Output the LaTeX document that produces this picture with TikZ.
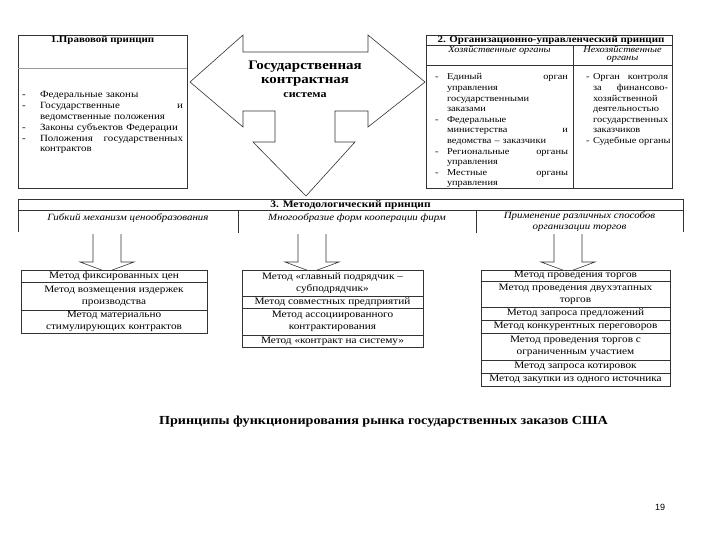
\documentclass[tikz,border=0pt]{standalone}
\usepackage{fontspec}
\setmainfont{Liberation Serif}[FakeStretch=1.15]
\newfontfamily\mysans{Liberation Sans}
\newcommand\myfList{\fontsize{9.5}{10.8}\selectfont}
\newcommand\myfOrg{\fontsize{9.0}{10.6}\selectfont}
\newcommand\myfSub{\fontsize{9}{8.4}\selectfont\itshape}
\newcommand\myfHead{\fontsize{9.5}{10}\selectfont\bfseries}
\newcommand\myfBig{\fontsize{13}{15}\selectfont\bfseries}
\newcommand\myfTab{\fontsize{9.8}{11.8}\selectfont}
\newcommand\myfIt{\fontsize{9.5}{11.3}\selectfont\itshape}
\begin{document}
\begin{tikzpicture}[x=1pt,y=-1pt,
  ln/.style={draw=black!80, line width=0.6pt},
  lt/.style={draw=black!40, line width=0.6pt},
  tx/.style={inner sep=0pt, outer sep=0pt},
  lst/.style={tx, anchor=base west, align=left, font=\myfList},
  org/.style={tx, anchor=base west, align=left, font=\myfOrg},
  cell/.style={tx, align=center, font=\myfTab},
  tbl/.style={draw=black!80, line width=0.6pt, fill=white}]
\useasboundingbox[fill=white] (0,0) rectangle (720,540);

% ---------- left box
\draw[ln] (18,35) rectangle (187,188);
\draw[lt] (18,68) -- (187,68);
\node[tx, font=\myfHead] (h1) at (102.5,40.5) {1.Правовой принцип};
\node[lst] (d1) at (22,98) {-};
\node[lst, text width=143pt] (l1) at (40,98) {Федеральные законы};
\node[lst] (d2) at (22,108.8) {-};
\node[lst, text width=143pt] (l2) at (40,108.8) {Государственные\hfill и\\ведомственные положения};
\node[lst] (d3) at (22,130.4) {-};
\node[lst, text width=143pt] (l3) at (40,130.4) {Законы субъектов Федерации};
\node[lst] (d4) at (22,141.2) {-};
\node[lst, text width=143pt] (l4) at (40,141.2) {Положения\hfill государственных\\контрактов};

% ---------- central shape
\draw[ln, fill=white] (243,35) -- (243,52) -- (368,52) -- (368,35) -- (425,82)
  -- (368,127) -- (368,111) -- (335,111) -- (335,142) -- (355,142) -- (306,196)
  -- (253,142) -- (275,142) -- (275,111) -- (243,111) -- (243,127) -- (190,82) -- cycle;
\node[tx, font=\myfBig] (c1) at (305,67) {Государственная};
\node[tx, font=\myfBig] (c2) at (305,81.5) {контрактная};
\node[tx, font=\fontsize{10.5}{12}\selectfont\bfseries] (c3) at (305,95) {система};

% ---------- right box
\draw[ln] (426,35) rectangle (672,188);
\draw[ln] (426,45) -- (672,45);
\draw[ln] (426,65) -- (672,65);
\draw[ln] (573,45) -- (573,188);
\node[tx, font=\myfHead] (h2) at (551,40.5) {2. Организационно-управленческий принцип};
\node[tx, font=\myfSub] (s1) at (499.5,50.5) {Хозяйственные органы};
\node[tx, font=\myfSub, align=center] (s2) at (622.5,54.5) {Нехозяйственные\\органы};
\node[org] (e1) at (435,80) {-};
\node[org, text width=121pt] (o1) at (447,80) {Единый\hfill орган\\управления\\государственными\\заказами};
\node[org] (e2) at (435,122.4) {-};
\node[org, text width=121pt] (o2) at (447,122.4) {Федеральные\\министерства\hfill и\\ведомства – заказчики};
\node[org] (e3) at (435,154.2) {-};
\node[org, text width=121pt] (o3) at (447,154.2) {Региональные\hfill органы\\управления};
\node[org] (e4) at (435,175.4) {-};
\node[org, text width=121pt] (o4) at (447,175.4) {Местные\hfill органы\\управления};
\node[org] (f1) at (586,80) {-};
\node[org, text width=75pt] (r1) at (593,80) {Орган\hfill контроля\\за\hfill финансово-\\хозяйственной\\деятельностью\\государственных\\заказчиков};
\node[org] (f2) at (586,143.6) {-};
\node[org] (r2) at (593,143.6) {Судебные органы};

% ---------- middle bar
\draw[ln] (18,232) -- (18,199) -- (683,199) -- (683,232);
\draw[ln] (18,210) -- (683,210);
\draw[ln] (238,210) -- (238,233);
\draw[ln] (476,210) -- (476,233);
\node[tx, font=\fontsize{10}{11}\selectfont\bfseries] (h3) at (350.5,205) {3. Методологический принцип};
\node[tx, font=\myfIt] (m1) at (128,218) {Гибкий механизм ценообразования};
\node[tx, font=\myfIt] (m2) at (357,218) {Многообразие форм кооперации фирм};
\node[tx, font=\myfIt, align=center] (m3) at (579.5,221.5) {Применение различных способов\\организации торгов};

% ---------- block arrows
\foreach \c in {107,312,568}{
  \draw[ln] ({\c-14},234) -- ({\c-14},262) -- ({\c-27},262) -- (\c,272)
    -- ({\c+27},262) -- ({\c+14},262) -- ({\c+14},234);
}

% ---------- table 1
\draw[tbl] (21,270) rectangle (207,333);
\draw[ln] (21,282) -- (207,282);
\draw[ln] (21,310) -- (207,310);
\node[cell] (a1) at (114,276) {Метод фиксированных цен};
\node[cell] (a2) at (114,296) {Метод возмещения издержек\\производства};
\node[cell] (a3) at (114,321.5) {Метод материально\\стимулирующих контрактов};

% ---------- table 2
\draw[tbl] (242,270) rectangle (423,347);
\draw[ln, line width=0.9pt] (242,296) -- (423,296);
\draw[ln] (242,308) -- (423,308);
\draw[ln, line width=0.9pt] (242,335) -- (423,335);
\node[cell] (b1) at (332.5,283) {Метод «главный подрядчик –\\субподрядчик»};
\node[cell] (b2) at (332.5,302) {Метод совместных предприятий};
\node[cell] (b3) at (332.5,321.5) {Метод ассоциированного\\контрактирования};
\node[cell] (b4) at (332.5,341) {Метод «контракт на систему»};

% ---------- table 3
\draw[tbl] (481,270) rectangle (670,386);
\foreach \yy in {281,307,320,333,360,373}{
  \draw[ln] (481,\yy) -- (670,\yy);
}
\node[cell] (g1) at (575.5,275.5) {Метод проведения торгов};
\node[cell] (g2) at (575.5,294) {Метод проведения двухэтапных\\торгов};
\node[cell] (g3) at (575.5,313.5) {Метод запроса предложений};
\node[cell] (g4) at (575.5,326.5) {Метод конкурентных переговоров};
\node[cell] (g5) at (575.5,346.5) {Метод проведения торгов с\\ограниченным участием};
\node[cell] (g6) at (575.5,366.5) {Метод запроса котировок};
\node[cell] (g7) at (575.5,379.5) {Метод закупки из одного источника};

% ---------- title and page number
\node[tx, font=\fontsize{12.3}{15}\selectfont\bfseries] (title) at (383.5,422) {Принципы функционирования рынка государственных заказов США};
\node[tx, font=\mysans\fontsize{9}{11}\selectfont] (pg) at (660,507) {19};
\end{tikzpicture}
\end{document}
